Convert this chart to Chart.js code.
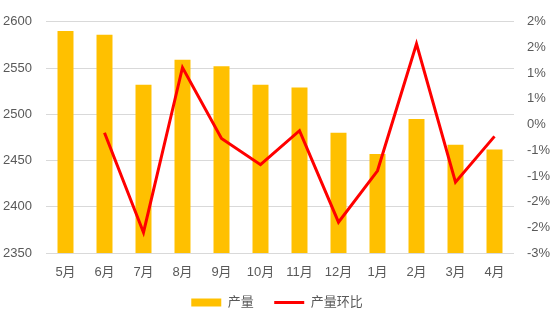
<!DOCTYPE html>
<html>
<head>
<meta charset="utf-8">
<script src="https://cdn.jsdelivr.net/npm/chart.js@4.4.0/dist/chart.umd.min.js"></script>
<style>
  html, body { margin: 0; padding: 0; background: #fff; }
  #wrap { width: 554px; height: 316px; }
</style>
</head>
<body>
<div id="wrap"><canvas id="c" width="554" height="316"></canvas></div>
<script>
// months, output (left axis) and month-on-month change in % (right axis)
const months = ['5月', '6月', '7月', '8月', '9月', '10月', '11月', '12月', '1月', '2月', '3月', '4月'];
const output = [2590, 2586, 2532, 2559, 2552, 2532, 2529, 2480, 2457, 2495, 2467, 2462];
const change = [null, -0.16, -2.10, 1.11, -0.27, -0.78, -0.12, -1.90, -0.90, 1.57, -1.12, -0.23];
const leftTicks = [2350, 2400, 2450, 2500, 2550, 2600];

const gray = '#595959';
const font = { family: 'Liberation Sans, Noto Sans CJK SC', size: 13 };

// excel style rounding: 1.5 -> 2, -0.5 -> -1
function pct(v) {
  let r = Math.round(Math.abs(v) + 1e-9);
  if (v < 0 && r !== 0) r = -r;
  return r + '%';
}

new Chart(document.getElementById('c'), {
  data: {
    labels: months,
    datasets: [
      {
        type: 'line',
        label: '产量环比',
        data: change,
        yAxisID: 'y1',
        borderColor: '#FF0000',
        backgroundColor: '#FF0000',
        borderWidth: 3,
        pointRadius: 0,
        tension: 0,
        order: 0
      },
      {
        type: 'bar',
        label: '产量',
        data: output,
        yAxisID: 'y',
        backgroundColor: '#FFC000',
        barPercentage: 0.41,
        categoryPercentage: 1,
        order: 1
      }
    ]
  },
  options: {
    responsive: false,
    animation: false,
    layout: { padding: { top: 12, bottom: -3, left: 0, right: 0 } },
    plugins: {
      tooltip: { enabled: false },
      legend: {
        position: 'bottom',
        labels: {
          color: gray,
          font: font,
          usePointStyle: true,
          pointStyleWidth: 30,
          boxHeight: 8,
          padding: 6,
          generateLabels: function () {
            return [
              { text: '产量    ', fillStyle: '#FFC000', strokeStyle: '#FFC000', lineWidth: 0, pointStyle: 'rect', datasetIndex: 1, fontColor: gray },
              { text: '产量环比', fillStyle: '#FF0000', strokeStyle: '#FF0000', lineWidth: 3, pointStyle: 'line', datasetIndex: 0, fontColor: gray }
            ];
          }
        }
      }
    },
    scales: {
      x: {
        grid: { display: false },
        border: { display: false },
        afterFit: function (s) { s.height = 37; },
        ticks: { color: gray, font: font, padding: 4, maxRotation: 0 }
      },
      y: {
        position: 'left',
        min: 2350,
        max: 2600,
        afterBuildTicks: function (s) { s.ticks = leftTicks.map(v => ({ value: v })); },
        afterFit: function (s) { s.width = 46; },
        grid: { color: '#D9D9D9', lineWidth: 1, drawTicks: false },
        border: { display: false },
        ticks: { color: gray, font: font, padding: 14, callback: v => String(v) }
      },
      y1: {
        position: 'right',
        min: -2.5,
        max: 2.0,
        afterFit: function (s) { s.width = 40; },
        grid: { display: false, drawTicks: false },
        border: { display: false },
        ticks: { stepSize: 0.5, color: gray, font: font, padding: 13, callback: v => pct(v) }
      }
    }
  }
});
</script>
</body>
</html>
